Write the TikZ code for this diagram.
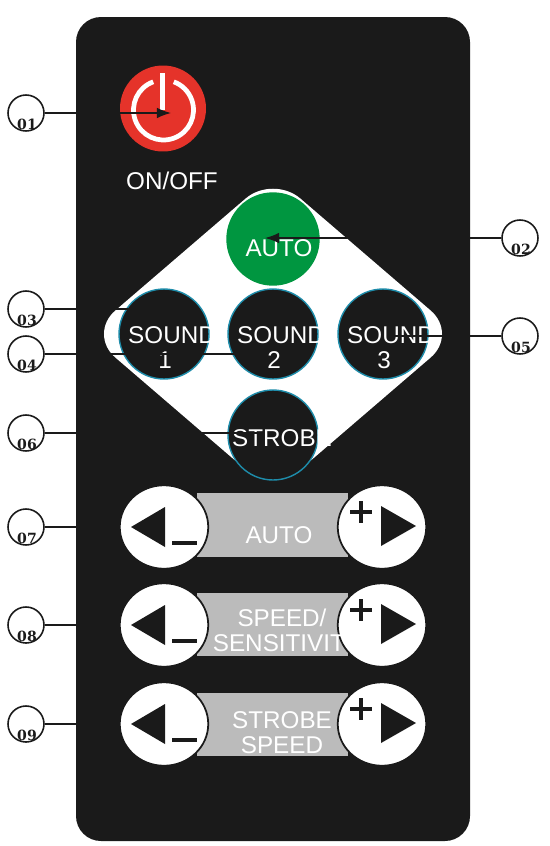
\documentclass[tikz,border=0pt]{standalone}
\usepackage{xcolor}
\usepackage{fontspec}
\usetikzlibrary{arrows.meta,shapes.geometric}
\setmainfont{Liberation Sans}
\newfontfamily\tagfont{DejaVu Serif}
\definecolor{remoteDark} {RGB}{26,  26,  26}
\definecolor{remoteRed}  {RGB}{229, 51,  42}
\definecolor{remoteGreen}{RGB}{0,   150, 64}
\definecolor{remoteTeal} {RGB}{30,  140, 170}
\definecolor{remoteGray} {RGB}{187, 187, 187}
\tikzset{
  keyText/.style={font=\fontsize{13.8}{15}\selectfont,white,inner sep=0pt},
  roundKey/.style={circle,minimum size=1.8cm,inner sep=0pt,draw=remoteTeal,line width=0.8pt,fill=remoteDark},
  sideKey/.style={ellipse,minimum width=1.77cm,minimum height=1.67cm,inner sep=0pt,fill=white,draw=remoteDark,line width=1pt},
  tagCircle/.style={circle,minimum size=0.72cm,inner sep=0pt,draw=remoteDark,line width=0.9pt},
  tagText/.style={font=\tagfont\bfseries\fontsize{8}{9}\selectfont,remoteDark,inner sep=0pt},
  leader/.style={draw=remoteDark,line width=0.8pt},
  powerLine/.style={white,line width=2.7pt}
}
\begin{document}
\begin{tikzpicture}[x=0.02cm,y=-0.02cm]
        \useasboundingbox (0,0) rectangle (549,846);
        % Body of the remote
        \fill[remoteDark,rounded corners=0.5cm](76,17) rectangle (470,841);

        % Power key
        \node[circle,minimum size=1.72cm,inner sep=0pt,fill=remoteRed] (power) at (163,108.5) {};
        \coordinate (ringc) at (163.5,110);
        \draw[powerLine] ([shift={(-110:30)}]ringc) arc[start angle=-110,end angle=-430,radius=30];
        \draw[powerLine] (162.5,73)--(162.5,110);
        \node[keyText] (onoff) at (172,181) {ON/OFF};

        % Diamond with the mode keys
        \fill[white,rounded corners=0.72cm](273,175)--(458,334)--(273,493)--(88,334)--cycle;
        \node[roundKey,draw=remoteGreen,fill=remoteGreen,minimum size=1.84cm] (auto) at (273,239) {};
        \node[keyText] (autoText) at (279,248) {AUTO};
        \foreach \id/\x/\num/\numx in {1/164/1/165, 2/273/2/274, 3/383/3/384}{
          \node[roundKey] (sound\id) at (\x,334) {};
          \node[keyText] (soundText\id) at (\x+8,335) {SOUND};
          \node[keyText] (soundNum\id) at (\numx,360) {\num};
        }
        \node[roundKey] (strobe) at (273,435) {};
        \node[keyText] (strobeText) at (282,438) {STROBE};

        % Rows of minus/plus keys (row centre, bar top, bar bottom)
        \foreach \row/\y/\top/\bot in {a/527/493/557, b/625/593/656, c/724/693/756}{
          \fill[remoteGray](197,\top) rectangle (348,\bot);
          \node[sideKey] (minus\row) at (164,\y) {};
          \node[sideKey] (plus\row) at (382,\y) {};
          \fill[remoteDark](131,\y)--(165,\y-20)--(165,\y+20)--cycle;
          \fill[remoteDark](416,\y-1)--(381,\y-21)--(381,\y+19)--cycle;
          \draw[remoteDark,line width=2.3pt](172,\y+16)--(197,\y+16);
          \draw[remoteDark,line width=2.3pt](350,\y-15)--(372,\y-15);
          \draw[remoteDark,line width=2.3pt](361,\y-26)--(361,\y-4);
        }
        \node[keyText] (autoBar) at (279,535) {AUTO};
        \node[keyText] (speedBar) at (282,618) {SPEED/};
        \node[keyText] (sensBar) at (287,643) {SENSITIVITY};
        \node[keyText] (strobeBar) at (282,720) {STROBE};
        \node[keyText] (speedBarB) at (282,745) {SPEED};

        % Numbered tags
        \foreach \id/\x/\y in {01/26/113, 02/520/238, 03/26/309, 04/26/354, 05/520/336,
                               06/26/433, 07/26/527, 08/26/625, 09/26/724}{
          \node[tagCircle] (tag\id) at (\x,\y) {};
          \node[tagText] (tagText\id) at (\x+1,\y+11) {\id};
        }

        % Leaders
        \coordinate (end01) at (171,113);
        \coordinate (end02) at (265,238);
        \coordinate (end03) at (130,309);
        \coordinate (end04) at (235,354);
        \coordinate (end05) at (387,336);
        \coordinate (end06) at (262,433);
        \draw[leader,-{Latex[length=8pt,width=6pt]}](tag01)--(end01);
        \draw[leader,-{Latex[length=8pt,width=6pt]}](tag02)--(end02);
        \foreach \id in {03,04,05,06}{
          \draw[leader](tag\id)--(end\id);
        }
        \draw[leader](tag07)--(minusa.west);
        \draw[leader](tag08)--(minusb.west);
        \draw[leader](tag09)--(minusc.west);
      \end{tikzpicture}
\end{document}
